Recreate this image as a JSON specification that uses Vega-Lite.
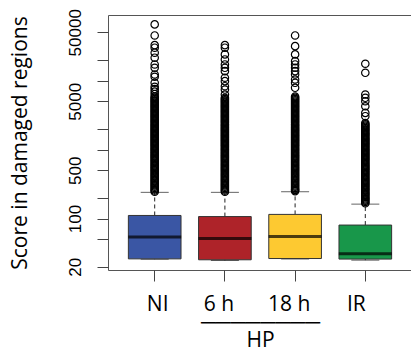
{
  "$schema": "https://vega.github.io/schema/vega-lite/v6.json",
  "width": 304,
  "height": 255,
  "autosize": {"type": "none"},
  "padding": {"left": 108, "top": 15, "right": 0, "bottom": 88},
  "background": "white",
  "config": {"view": {"stroke": "#555555", "strokeWidth": 1}},
  "datasets": {
    "boxes": [
      {"group": "NI", "lower": 25.8, "q1": 26.1, "median": 54, "q3": 111, "upper": 240},
      {"group": "6 h", "lower": 24.7, "q1": 25.3, "median": 51.5, "q3": 107, "upper": 240},
      {"group": "18 h", "lower": 26, "q1": 26.4, "median": 55, "q3": 115, "upper": 245},
      {"group": "IR", "lower": 25, "q1": 25.9, "median": 30.9, "q3": 80.6, "upper": 162}
    ],
    "outliers": [
      {"group":"NI","value":245},{"group":"NI","value":255},{"group":"NI","value":266},{"group":"NI","value":278},{"group":"NI","value":290},{"group":"NI","value":302},{"group":"NI","value":315},{"group":"NI","value":328},{"group":"NI","value":342},{"group":"NI","value":357},{"group":"NI","value":372},{"group":"NI","value":388},{"group":"NI","value":404},{"group":"NI","value":421},{"group":"NI","value":440},{"group":"NI","value":458},{"group":"NI","value":478},{"group":"NI","value":498},{"group":"NI","value":520},{"group":"NI","value":542},{"group":"NI","value":565},{"group":"NI","value":589},{"group":"NI","value":614},{"group":"NI","value":640},{"group":"NI","value":667},{"group":"NI","value":696},{"group":"NI","value":726},{"group":"NI","value":757},{"group":"NI","value":789},{"group":"NI","value":822},{"group":"NI","value":858},{"group":"NI","value":894},{"group":"NI","value":932},{"group":"NI","value":972},{"group":"NI","value":1013},{"group":"NI","value":1056},{"group":"NI","value":1102},{"group":"NI","value":1149},{"group":"NI","value":1198},{"group":"NI","value":1249},{"group":"NI","value":1302},{"group":"NI","value":1357},{"group":"NI","value":1415},{"group":"NI","value":1475},{"group":"NI","value":1539},{"group":"NI","value":1604},{"group":"NI","value":1673},{"group":"NI","value":1744},{"group":"NI","value":1818},{"group":"NI","value":1895},{"group":"NI","value":1977},{"group":"NI","value":2061},{"group":"NI","value":2149},{"group":"NI","value":2241},{"group":"NI","value":2336},{"group":"NI","value":2436},{"group":"NI","value":2540},{"group":"NI","value":2648},{"group":"NI","value":2761},{"group":"NI","value":2879},{"group":"NI","value":3001},{"group":"NI","value":3129},{"group":"NI","value":3263},{"group":"NI","value":3402},{"group":"NI","value":3547},{"group":"NI","value":3698},{"group":"NI","value":3856},{"group":"NI","value":4020},{"group":"NI","value":4192},{"group":"NI","value":4371},{"group":"NI","value":4557},{"group":"NI","value":4751},{"group":"NI","value":4954},{"group":"NI","value":5165},{"group":"NI","value":5385},{"group":"NI","value":5614},{"group":"NI","value":5854},{"group":"NI","value":6364},{"group":"NI","value":6918},{"group":"NI","value":7521},{"group":"NI","value":8110},{"group":"NI","value":9270},{"group":"NI","value":11330},{"group":"NI","value":12240},{"group":"NI","value":15300},{"group":"NI","value":17100},{"group":"NI","value":21400},{"group":"NI","value":25300},{"group":"NI","value":29900},{"group":"NI","value":32600},{"group":"NI","value":45000},{"group":"NI","value":65000},
      {"group":"6 h","value":245},{"group":"6 h","value":255},{"group":"6 h","value":266},{"group":"6 h","value":278},{"group":"6 h","value":290},{"group":"6 h","value":302},{"group":"6 h","value":315},{"group":"6 h","value":328},{"group":"6 h","value":342},{"group":"6 h","value":357},{"group":"6 h","value":372},{"group":"6 h","value":388},{"group":"6 h","value":404},{"group":"6 h","value":421},{"group":"6 h","value":440},{"group":"6 h","value":458},{"group":"6 h","value":478},{"group":"6 h","value":498},{"group":"6 h","value":520},{"group":"6 h","value":542},{"group":"6 h","value":565},{"group":"6 h","value":589},{"group":"6 h","value":614},{"group":"6 h","value":640},{"group":"6 h","value":667},{"group":"6 h","value":696},{"group":"6 h","value":726},{"group":"6 h","value":757},{"group":"6 h","value":789},{"group":"6 h","value":822},{"group":"6 h","value":858},{"group":"6 h","value":894},{"group":"6 h","value":932},{"group":"6 h","value":972},{"group":"6 h","value":1013},{"group":"6 h","value":1056},{"group":"6 h","value":1102},{"group":"6 h","value":1149},{"group":"6 h","value":1198},{"group":"6 h","value":1249},{"group":"6 h","value":1302},{"group":"6 h","value":1357},{"group":"6 h","value":1415},{"group":"6 h","value":1475},{"group":"6 h","value":1539},{"group":"6 h","value":1604},{"group":"6 h","value":1673},{"group":"6 h","value":1744},{"group":"6 h","value":1818},{"group":"6 h","value":1895},{"group":"6 h","value":1977},{"group":"6 h","value":2061},{"group":"6 h","value":2149},{"group":"6 h","value":2241},{"group":"6 h","value":2336},{"group":"6 h","value":2436},{"group":"6 h","value":2540},{"group":"6 h","value":2648},{"group":"6 h","value":2761},{"group":"6 h","value":2879},{"group":"6 h","value":3001},{"group":"6 h","value":3129},{"group":"6 h","value":3263},{"group":"6 h","value":3402},{"group":"6 h","value":3547},{"group":"6 h","value":3698},{"group":"6 h","value":3856},{"group":"6 h","value":4020},{"group":"6 h","value":4192},{"group":"6 h","value":4371},{"group":"6 h","value":4557},{"group":"6 h","value":4751},{"group":"6 h","value":4954},{"group":"6 h","value":5165},{"group":"6 h","value":5385},{"group":"6 h","value":5620},{"group":"6 h","value":6270},{"group":"6 h","value":7410},{"group":"6 h","value":8280},{"group":"6 h","value":9790},{"group":"6 h","value":10970},{"group":"6 h","value":13680},{"group":"6 h","value":15300},{"group":"6 h","value":17100},{"group":"6 h","value":20200},{"group":"6 h","value":23900},{"group":"6 h","value":29900},{"group":"6 h","value":32600},
      {"group":"18 h","value":250},{"group":"18 h","value":260},{"group":"18 h","value":266},{"group":"18 h","value":278},{"group":"18 h","value":290},{"group":"18 h","value":302},{"group":"18 h","value":315},{"group":"18 h","value":328},{"group":"18 h","value":342},{"group":"18 h","value":357},{"group":"18 h","value":372},{"group":"18 h","value":388},{"group":"18 h","value":404},{"group":"18 h","value":421},{"group":"18 h","value":440},{"group":"18 h","value":458},{"group":"18 h","value":478},{"group":"18 h","value":498},{"group":"18 h","value":520},{"group":"18 h","value":542},{"group":"18 h","value":565},{"group":"18 h","value":589},{"group":"18 h","value":614},{"group":"18 h","value":640},{"group":"18 h","value":667},{"group":"18 h","value":696},{"group":"18 h","value":726},{"group":"18 h","value":757},{"group":"18 h","value":789},{"group":"18 h","value":822},{"group":"18 h","value":858},{"group":"18 h","value":894},{"group":"18 h","value":932},{"group":"18 h","value":972},{"group":"18 h","value":1013},{"group":"18 h","value":1056},{"group":"18 h","value":1102},{"group":"18 h","value":1149},{"group":"18 h","value":1198},{"group":"18 h","value":1249},{"group":"18 h","value":1302},{"group":"18 h","value":1357},{"group":"18 h","value":1415},{"group":"18 h","value":1475},{"group":"18 h","value":1539},{"group":"18 h","value":1604},{"group":"18 h","value":1673},{"group":"18 h","value":1744},{"group":"18 h","value":1818},{"group":"18 h","value":1895},{"group":"18 h","value":1977},{"group":"18 h","value":2061},{"group":"18 h","value":2149},{"group":"18 h","value":2241},{"group":"18 h","value":2336},{"group":"18 h","value":2436},{"group":"18 h","value":2540},{"group":"18 h","value":2648},{"group":"18 h","value":2761},{"group":"18 h","value":2879},{"group":"18 h","value":3001},{"group":"18 h","value":3129},{"group":"18 h","value":3263},{"group":"18 h","value":3402},{"group":"18 h","value":3547},{"group":"18 h","value":3698},{"group":"18 h","value":3856},{"group":"18 h","value":4020},{"group":"18 h","value":4192},{"group":"18 h","value":4371},{"group":"18 h","value":4557},{"group":"18 h","value":4751},{"group":"18 h","value":4954},{"group":"18 h","value":5165},{"group":"18 h","value":5385},{"group":"18 h","value":5614},{"group":"18 h","value":5854},{"group":"18 h","value":7850},{"group":"18 h","value":9270},{"group":"18 h","value":10350},{"group":"18 h","value":12240},{"group":"18 h","value":13680},{"group":"18 h","value":15300},{"group":"18 h","value":17100},{"group":"18 h","value":19080},{"group":"18 h","value":23900},{"group":"18 h","value":31500},{"group":"18 h","value":45000},
      {"group":"IR","value":167},{"group":"IR","value":174},{"group":"IR","value":182},{"group":"IR","value":190},{"group":"IR","value":197},{"group":"IR","value":206},{"group":"IR","value":215},{"group":"IR","value":224},{"group":"IR","value":233},{"group":"IR","value":243},{"group":"IR","value":254},{"group":"IR","value":264},{"group":"IR","value":276},{"group":"IR","value":288},{"group":"IR","value":300},{"group":"IR","value":313},{"group":"IR","value":326},{"group":"IR","value":340},{"group":"IR","value":354},{"group":"IR","value":369},{"group":"IR","value":385},{"group":"IR","value":401},{"group":"IR","value":418},{"group":"IR","value":436},{"group":"IR","value":455},{"group":"IR","value":474},{"group":"IR","value":495},{"group":"IR","value":516},{"group":"IR","value":538},{"group":"IR","value":561},{"group":"IR","value":584},{"group":"IR","value":609},{"group":"IR","value":635},{"group":"IR","value":662},{"group":"IR","value":691},{"group":"IR","value":720},{"group":"IR","value":751},{"group":"IR","value":783},{"group":"IR","value":816},{"group":"IR","value":851},{"group":"IR","value":887},{"group":"IR","value":925},{"group":"IR","value":965},{"group":"IR","value":1006},{"group":"IR","value":1049},{"group":"IR","value":1094},{"group":"IR","value":1140},{"group":"IR","value":1189},{"group":"IR","value":1239},{"group":"IR","value":1292},{"group":"IR","value":1347},{"group":"IR","value":1404},{"group":"IR","value":1464},{"group":"IR","value":1526},{"group":"IR","value":1592},{"group":"IR","value":1660},{"group":"IR","value":1730},{"group":"IR","value":1804},{"group":"IR","value":1881},{"group":"IR","value":1961},{"group":"IR","value":2045},{"group":"IR","value":2132},{"group":"IR","value":2223},{"group":"IR","value":2318},{"group":"IR","value":2417},{"group":"IR","value":3040},{"group":"IR","value":3400},{"group":"IR","value":4240},{"group":"IR","value":5010},{"group":"IR","value":5620},{"group":"IR","value":6270},{"group":"IR","value":12950},{"group":"IR","value":17500}
    ]
  },
  "encoding": {
    "x": {
      "field": "group",
      "type": "nominal",
      "sort": ["NI", "6 h", "18 h", "IR"],
      "scale": {"domain": ["NI", "6 h", "18 h", "IR"], "paddingInner": 0.25, "paddingOuter": 0.29},
      "axis": {
        "domain": false,
        "tickSize": 11,
        "tickColor": "#444444",
        "labelAngle": 0,
        "labelFont": "Open Sans",
        "labelFontSize": 21,
        "labelColor": "#000000",
        "labelPadding": 12,
        "labelOffset": {"expr": "datum.value == 'NI' ? 3 : datum.value == 'IR' ? -9 : -6"},
        "title": ["────────", "HP"],
        "titleFont": "Open Sans",
        "titleFontSize": 21,
        "titleFontWeight": "normal",
        "titleColor": "#000000",
        "titleLineHeight": 18,
        "titlePadding": -3
      }
    }
  },
  "layer": [
    {
      "data": {"name": "boxes"},
      "mark": {"type": "rule", "color": "#222222", "strokeWidth": 1, "strokeDash": [4, 3]},
      "encoding": {
        "y": {"field": "q3", "type": "quantitative"},
        "y2": {"field": "upper"}
      }
    },
    {
      "data": {"name": "boxes"},
      "mark": {"type": "rule", "color": "#222222", "strokeWidth": 1, "strokeDash": [4, 3]},
      "encoding": {
        "y": {"field": "lower", "type": "quantitative"},
        "y2": {"field": "q1"}
      }
    },
    {
      "data": {"name": "boxes"},
      "mark": {"type": "tick", "color": "#222222", "size": 28, "thickness": 1},
      "encoding": {"y": {"field": "upper", "type": "quantitative"}}
    },
    {
      "data": {"name": "boxes"},
      "mark": {"type": "tick", "color": "#222222", "size": 28, "thickness": 1},
      "encoding": {"y": {"field": "lower", "type": "quantitative"}}
    },
    {
      "data": {"name": "boxes"},
      "mark": {"type": "bar", "stroke": "#333333", "strokeWidth": 1, "opacity": 1},
      "encoding": {
        "y": {"field": "q1", "type": "quantitative"},
        "y2": {"field": "q3"},
        "color": {
          "field": "group",
          "type": "nominal",
          "scale": {"domain": ["NI", "6 h", "18 h", "IR"], "range": ["#3A56A4", "#AE2329", "#FDC931", "#18974A"]},
          "legend": null
        }
      }
    },
    {
      "data": {"name": "boxes"},
      "mark": {"type": "tick", "color": "#000000", "size": 53, "thickness": 3},
      "encoding": {"y": {"field": "median", "type": "quantitative"}}
    },
    {
      "data": {"name": "outliers"},
      "mark": {"type": "point", "shape": "circle", "filled": false, "size": 55, "stroke": "#000000", "strokeWidth": 1.2, "opacity": 1},
      "encoding": {
        "y": {
          "field": "value",
          "type": "quantitative",
          "scale": {"type": "log", "domain": [18, 89000], "nice": false, "zero": false},
          "axis": {
            "values": [20, 50, 100, 200, 500, 1000, 2000, 5000, 10000, 20000, 50000],
            "labelExpr": "(datum.value == 20 || datum.value == 100 || datum.value == 500 || datum.value == 5000 || datum.value == 50000) ? format(datum.value, 'd') : ''",
            "labelOverlap": false,
            "labelFlush": false,
            "domain": false,
            "grid": false,
            "tickSize": 11,
            "tickColor": "#444444",
            "labelAngle": 270,
            "labelFont": "Liberation Sans",
            "labelFontSize": 17,
            "labelColor": "#000000",
            "labelPadding": 13,
            "title": "Score in damaged regions",
            "titleFont": "Open Sans",
            "titleFontSize": 21,
            "titleFontWeight": "normal",
            "titleColor": "#000000",
            "titlePadding": 36
          }
        }
      }
    }
  ],
  "resolve": {"scale": {"y": "shared"}}
}
